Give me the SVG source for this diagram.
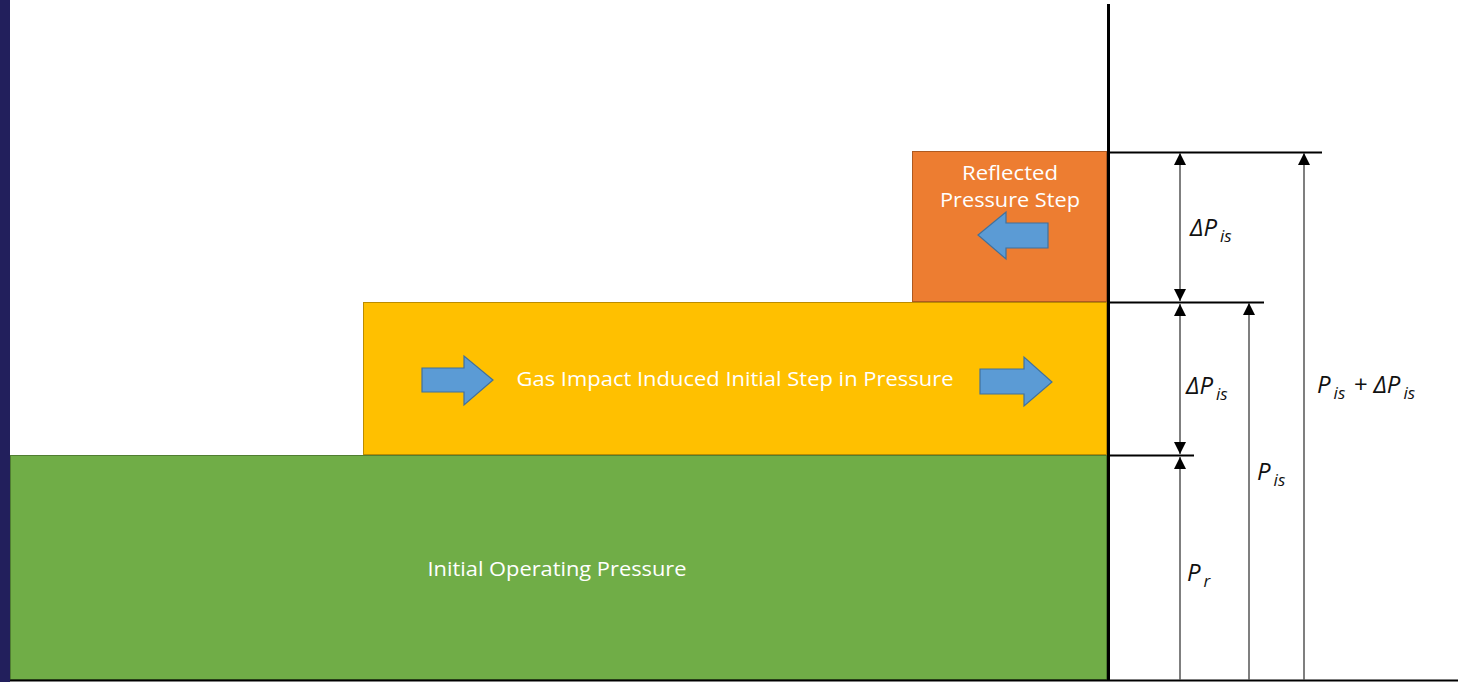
<svg xmlns="http://www.w3.org/2000/svg" width="1458" height="682" viewBox="0 0 1458 682">
  <style>
    .box-text { font-family: "Open Sans", "Liberation Sans", sans-serif; font-size: 20px; font-weight: 500; fill: #ffffff; text-anchor: middle; }
    .math { font-family: "Open Sans", "Liberation Sans", sans-serif; font-style: italic; font-weight: 400; font-size: 24px; fill: #111111; }
    .sub { font-size: 17px; }
    .dim { stroke: #555555; stroke-width: 1.5; fill: none; }
    .ref { stroke: #000000; stroke-width: 2; }
    .flow { fill: #5B9BD5; stroke: #41719C; stroke-width: 1.2; }
  </style>
  <defs>
    <marker id="tip" viewBox="0 0 12 12" refX="12" refY="6" markerWidth="12" markerHeight="12" markerUnits="userSpaceOnUse" orient="auto-start-reverse">
      <path d="M0,0 L12,6 L0,12 Z" fill="#000000"/>
    </marker>
  </defs>

  <rect x="0" y="0" width="1458" height="682" fill="#ffffff"/>
  <!-- slide edge band -->
  <rect x="0" y="0" width="10" height="682" fill="#221F5C"/>

  <!-- pressure layers -->
  <g id="initial-operating-pressure">
    <rect x="10.5" y="455.5" width="1096" height="224" fill="#70AD47" stroke="#507E32" stroke-width="1"/>
    <text class="box-text" x="557" y="576" textLength="259" lengthAdjust="spacingAndGlyphs">Initial Operating Pressure</text>
  </g>

  <g id="initial-step">
    <rect x="363.5" y="302.5" width="743" height="152" fill="#FFC000" stroke="#BC8C00" stroke-width="1"/>
    <text class="box-text" x="735" y="386" textLength="437" lengthAdjust="spacingAndGlyphs">Gas Impact Induced Initial Step in Pressure</text>
    <path class="flow" d="M422,368 L464,368 L464,356 L493,380 L464,405 L464,392 L422,392 Z"/>
    <path class="flow" d="M980,369 L1024,369 L1024,357 L1052,382 L1024,406 L1024,394 L980,394 Z"/>
  </g>

  <g id="reflected-step">
    <rect x="912.5" y="151.5" width="194" height="150" fill="#ED7D31" stroke="#AE5A21" stroke-width="1"/>
    <text class="box-text" x="1010" y="180" textLength="96" lengthAdjust="spacingAndGlyphs">Reflected</text>
    <text class="box-text" x="1010" y="207" textLength="140" lengthAdjust="spacingAndGlyphs">Pressure Step</text>
    <path class="flow" d="M1048,223 L1006,223 L1006,212 L978,235 L1006,259 L1006,248 L1048,248 Z"/>
  </g>

  <!-- axis and dimension lines -->
  <g id="connectors">
    <line x1="1108.5" y1="4" x2="1108.5" y2="681" stroke="#000000" stroke-width="3"/>
    <line x1="10" y1="680.5" x2="1458" y2="680.5" stroke="#000000" stroke-width="2"/>

    <line class="ref" x1="1110" y1="152.5" x2="1322" y2="152.5"/>
    <line class="ref" x1="1110" y1="302.5" x2="1264" y2="302.5"/>
    <line class="ref" x1="1110" y1="455.5" x2="1194" y2="455.5"/>

    <!-- ΔPis upper span -->
    <line class="dim" x1="1180" y1="153" x2="1180" y2="301" marker-start="url(#tip)" marker-end="url(#tip)"/>
    <!-- ΔPis lower span -->
    <line class="dim" x1="1180" y1="304" x2="1180" y2="454" marker-start="url(#tip)" marker-end="url(#tip)"/>
    <!-- Pr -->
    <line class="dim" x1="1180" y1="680" x2="1180" y2="457" marker-end="url(#tip)"/>
    <!-- Pis -->
    <line class="dim" x1="1249" y1="680" x2="1249" y2="303" marker-end="url(#tip)"/>
    <!-- Pis + ΔPis -->
    <line class="dim" x1="1304" y1="680" x2="1304" y2="153" marker-end="url(#tip)"/>
  </g>

  <g id="labels">
    <text class="math" x="1190" y="236">ΔP<tspan class="sub" dx="3" dy="6">is</tspan></text>
    <text class="math" x="1186" y="394">ΔP<tspan class="sub" dx="3" dy="6">is</tspan></text>
    <text class="math" x="1187" y="581">P<tspan class="sub" dx="3" dy="6">r</tspan></text>
    <text class="math" x="1257" y="480">P<tspan class="sub" dx="3" dy="6">is</tspan></text>
    <text class="math" x="1317" y="393">P<tspan class="sub" dx="3" dy="6">is</tspan><tspan dy="-6" dx="2"> + ΔP</tspan><tspan class="sub" dx="3" dy="6">is</tspan></text>
  </g>
</svg>
